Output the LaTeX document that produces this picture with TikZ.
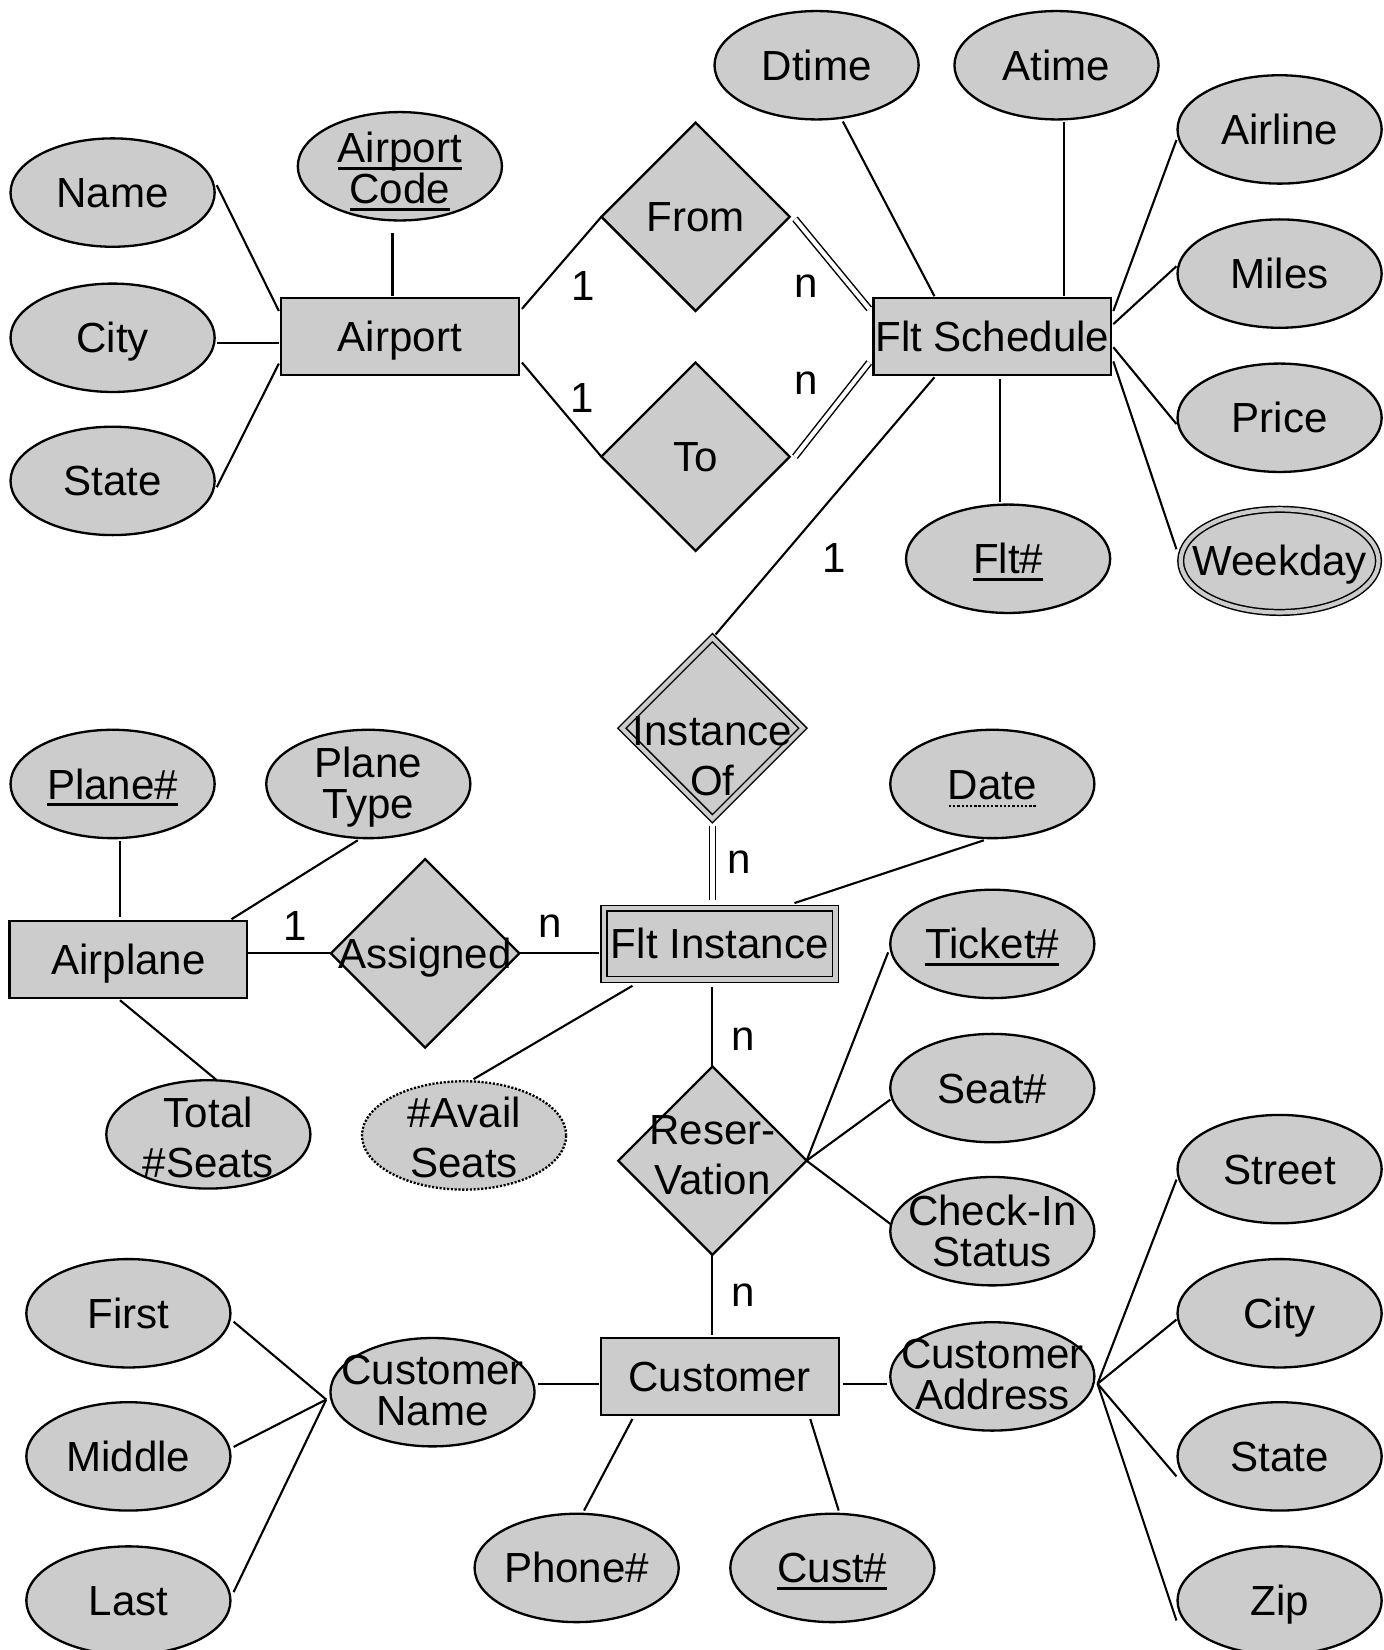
\documentclass[tikz,border=0pt]{standalone}
\usepackage{fontspec}
\setmainfont{Liberation Sans}
\usetikzlibrary{shapes.geometric,calc}
\definecolor{fillc}{RGB}{204,204,204}
\newcommand\erfont{\fontsize{20}{19.5}\selectfont}
\newcommand\erfontw{\fontsize{20}{24}\selectfont}
% solid underline for key attributes
\newcommand\erul[1]{\leavevmode\setbox0\hbox{#1}\rlap{\rule[-3.2pt]{\wd0}{1.1pt}}\box0}
% fine dotted underline for partial keys
\newcommand\erdul[1]{\leavevmode\setbox0\hbox{#1}\rlap{\raisebox{-4pt}{\hbox to \wd0{\xleaders\hbox{\kern0.45pt\rule{1.1pt}{1.1pt}\kern0.45pt}\hfill}}}\box0}

\begin{document}
\begin{tikzpicture}[x=0.5pt,y=-0.5pt,
  every node/.style={inner sep=0pt, outer sep=0pt},
  box/.style={draw, line width=1.1pt, fill=fillc, rectangle, minimum width=113pt,
    minimum height=36.5pt, font=\erfont, text height=14.3pt, text depth=0pt},
  wbox/.style={box, line width=0.7pt, double=fillc, double distance=2pt,
    minimum width=110pt, minimum height=33.8pt},
  attr/.style={draw, line width=1.1pt, fill=fillc, ellipse, minimum width=97pt, minimum height=51.5pt},
  wattr/.style={attr, line width=0.7pt, double=fillc, double distance=2pt,
    minimum width=94pt, minimum height=49pt},
  dattr/.style={attr, line width=1.1pt, dash pattern=on 1pt off 0.8pt},
  rel/.style={draw, line width=1.1pt, fill=fillc, diamond, minimum width=89.5pt, minimum height=89.5pt},
  wrel/.style={rel, line width=0.7pt, double=fillc, double distance=2pt,
    minimum width=86pt, minimum height=86pt},
  txt/.style={font=\erfont, text height=14.3pt, text depth=0pt},
  two/.style={txt, align=center, text height=33.8pt},
  twow/.style={txt, align=center, font=\erfontw, text height=38.3pt},
  link/.style={line width=1pt},
  dlink/.style={line width=0.7pt, double, double distance=2pt},
  card/.style={font=\erfont, anchor=base},
]
\useasboundingbox (0,0) rectangle (1315,1568);

% ---------- Airport and flight schedule ----------
\node[attr] (name) at (107,183) {};   \node[txt] at (name) {Name};
\node[attr] (city) at (107,321) {};   \node[txt] at (city) {City};
\node[attr] (state) at (107,457) {};  \node[txt] at (state) {State};
\node[attr] (acode) at (380,158) {};  \node[two] at (380,160) {\erul{Airport}\\\erul{Code}};
\node[box] (airport) at (380,320) {Airport};
\node[rel] (from) at (661,206) {};    \node[txt] at (from) {From};
\node[rel] (to) at (661,434) {};      \node[txt] at (to) {To};
\node[box] (fs) at (943,320) {Flt Schedule};
\node[attr] (dtime) at (776,62) {};   \node[txt] at (dtime) {Dtime};
\node[attr] (atime) at (1004,62) {};  \node[txt] at (atime) {Atime};
\node[attr] (airline) at (1216,123) {}; \node[txt] at (airline) {Airline};
\node[attr] (miles) at (1216,260) {}; \node[txt] at (miles) {Miles};
\node[attr] (price) at (1216,397) {}; \node[txt] at (price) {Price};
\node[wattr] (wday) at (1216,533) {}; \node[txt] at (wday) {Weekday};
\node[attr] (fltno) at (958,531) {};  \node[txt] at (fltno) {\erul{Flt\#}};

% ---------- Flight instance and airplane ----------
\node[wrel] (inst) at (677,692) {};   \node[twow] at (677,718) {Instance\\Of};
\node[wbox] (fi) at (684,897) {Flt Instance};
\node[attr] (date) at (943,745) {};   \node[txt] at (date) {\erdul{Date}};
\node[box] (airplane) at (122,912) {Airplane};
\node[attr] (planeno) at (107,745) {}; \node[txt] at (planeno) {\erul{Plane\#}};
\node[attr] (ptype) at (350,745) {};  \node[two] at (350,744) {Plane\\Type};
\node[rel] (assigned) at (404,906) {}; \node[txt] at (assigned) {Assigned};
\node[attr] (total) at (198,1078) {}; \node[twow] at (198,1081) {Total\\\#Seats};
\node[dattr] (avail) at (441,1079) {}; \node[twow] at (441,1081) {\#Avail\\Seats};
\node[attr] (ticket) at (943,897) {}; \node[txt] at (ticket) {\erul{Ticket\#}};
\node[attr] (seat) at (943,1034) {};  \node[txt] at (seat) {Seat\#};
\node[attr] (checkin) at (943,1170) {}; \node[two] at (943,1170) {Check-In\\Status};
\node[rel] (res) at (677,1103) {};    \node[twow] at (677,1097) {Reser-\\Vation};

% ---------- Customer ----------
\node[box] (cust) at (684,1308) {Customer};
\node[attr] (cname) at (411,1323) {}; \node[two] at (411,1321) {Customer\\Name};
\node[attr] (first) at (122,1248) {}; \node[txt] at (first) {First};
\node[attr] (middle) at (122,1384) {}; \node[txt] at (middle) {Middle};
\node[attr] (last) at (122,1521) {};  \node[txt] at (last) {Last};
\node[attr] (caddr) at (943,1308) {}; \node[two] at (943,1306) {Customer\\Address};
\node[attr] (street) at (1216,1111) {}; \node[txt] at (street) {Street};
\node[attr] (city2) at (1216,1248) {}; \node[txt] at (city2) {City};
\node[attr] (state2) at (1216,1384) {}; \node[txt] at (state2) {State};
\node[attr] (zip) at (1216,1521) {};  \node[txt] at (zip) {Zip};
\node[attr] (phone) at (548,1490) {}; \node[txt] at (phone) {Phone\#};
\node[attr] (custno) at (791,1490) {}; \node[txt] at (custno) {\erul{Cust\#}};

% ---------- connectors: airport / schedule ----------
\draw[link] ($(name.east)+(2,-7)$) -- ($(airport.north west)+(-2,12)$);
\draw[link] ($(city.east)+(2,5)$) -- ($(airport.west)+(-2,6)$);
\draw[link] ($(state.east)+(2,6)$) -- ($(airport.south west)+(-2,-11)$);
\draw[link] ($(acode.south)+(-7,12)$) -- ($(airport.north)+(-7,-2)$);
\draw[link] ($(airport.north east)+(3,10)$) -- (from.west);
\draw[link] ($(airport.south east)+(3,-12)$) -- (to.west);
\draw[dlink] ($(from.east)+(5,2)$) -- ($(fs.north west)+(-4,10)$);
\draw[dlink] ($(to.east)+(5,0)$) -- ($(fs.south west)+(-4,-12)$);
\draw[link] ($(dtime.south)+(25,2)$) -- ($(fs.north)+(-55,-2)$);
\draw[link] ($(atime.south)+(7,2)$) -- ($(fs.north)+(68,-2)$);
\draw[link] ($(airline.west)+(-1,10)$) -- ($(fs.north east)+(2,12)$);
\draw[link] ($(miles.west)+(-1,-7)$) -- ($(fs.east)+(2,-12)$);
\draw[link] ($(price.west)+(-1,6)$) -- ($(fs.east)+(2,10)$);
\draw[link] ($(wday.west)+(-4,-11)$) -- ($(fs.south east)+(2,-13)$);
\draw[link] ($(fs.south)+(7,4)$) -- ($(fltno.north)+(-8,-2)$);
\draw[link] ($(fs.south)+(-55,2)$) -- ($(inst.north)+(3,-3)$);

% ---------- connectors: instance / airplane / reservation ----------
\draw[dlink] ($(inst.south)+(0,7)$) -- ($(fi.north)+(-7,-8)$);
\draw[link] ($(date.south)+(-8,2)$) -- ($(fi.north east)+(-39,-5)$);
\draw[link] ($(planeno.south)+(7,3)$) -- ($(airplane.north)+(-8,-4)$);
\draw[link] ($(ptype.south)+(-10,2)$) -- ($(airplane.north east)+(-15,-2)$);
\draw[link] ($(airplane.east)+(0,-6)$) -- (assigned.west);
\draw[link] (assigned.east) -- ($(fi.west)+(-5,9)$);
\draw[link] ($(airplane.south)+(-8,2)$) -- ($(total.north)+(8,0)$);
\draw[link] ($(fi.south west)+(27,6)$) -- ($(avail.north)+(9,-2)$);
\draw[link] ($(fi.south)+(-7,7)$) -- (res.north);
\draw[link] (res.east) -- ($(ticket.west)+(-2,8)$);
\draw[link] (res.east) -- ($(seat.west)+(0,11)$);
\draw[link] (res.east) -- ($(checkin.west)+(0,-7)$);
\draw[link] (res.south) -- ($(cust.north)+(-7,-3)$);

% ---------- connectors: customer ----------
\draw[link] ($(cname.east)+(3,-8)$) -- ($(cust.west)+(-2,7)$);
\draw[link] ($(first.east)+(3,8)$) -- ($(cname.west)+(-4,7)$);
\draw[link] ($(middle.east)+(3,-9)$) -- ($(cname.west)+(-4,7)$);
\draw[link] ($(last.east)+(3,-8)$) -- ($(cname.west)+(-4,7)$);
\draw[link] ($(cust.east)+(4,7)$) -- ($(caddr.west)+(-3,7)$);
\draw[link] ($(caddr.east)+(3,7)$) -- ($(street.west)+(-1,10)$);
\draw[link] ($(caddr.east)+(3,7)$) -- ($(city2.west)+(-1,6)$);
\draw[link] ($(caddr.east)+(3,7)$) -- ($(state2.west)+(-1,19)$);
\draw[link] ($(caddr.east)+(3,7)$) -- ($(zip.west)+(-1,19)$);
\draw[link] ($(cust.south west)+(30,4)$) -- ($(phone.north)+(7,-3)$);
\draw[link] ($(cust.south east)+(-27,4)$) -- ($(custno.north)+(6,-3)$);

% ---------- cardinalities ----------
\node[card] (c1) at (554,286) {1};
\node[card] (c2) at (766,283) {n};
\node[card] (c3) at (553,392) {1};
\node[card] (c4) at (766,375) {n};
\node[card] (c5) at (793,544) {1};
\node[card] (c6) at (702,830) {n};
\node[card] (c7) at (281,894) {1};
\node[card] (c8) at (523,891) {n};
\node[card] (c9) at (706,998) {n};
\node[card] (c10) at (706,1242) {n};
\end{tikzpicture}
\end{document}
